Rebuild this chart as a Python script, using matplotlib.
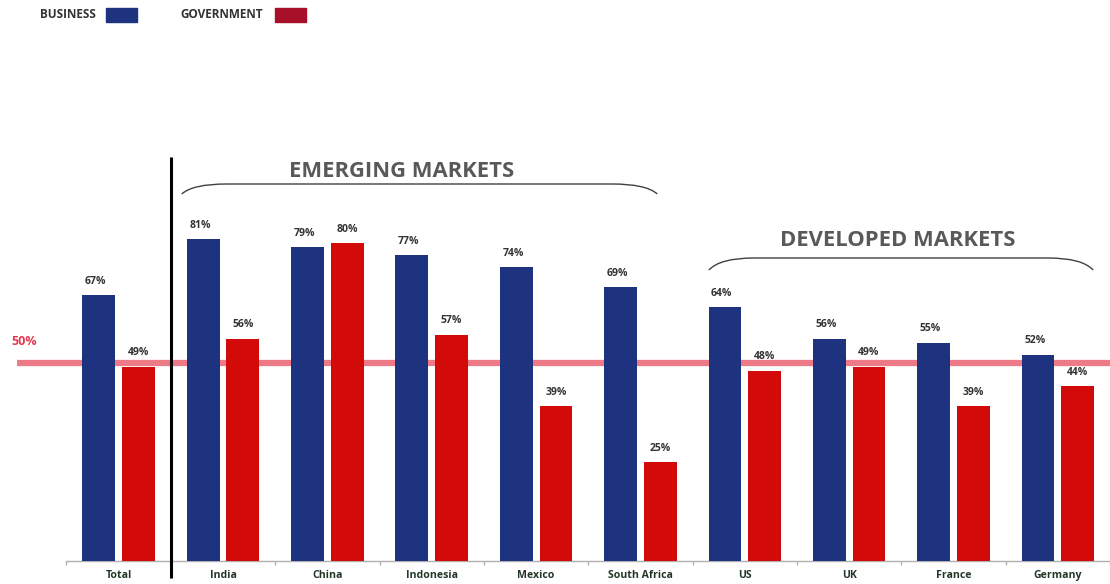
import matplotlib
matplotlib.use("Agg")
import matplotlib.pyplot as plt
from matplotlib.path import Path
from matplotlib.patches import PathPatch, Rectangle
import numpy as np

plt.rcParams['font.family'] = ['Open Sans', 'DejaVu Sans']

categories = ["Total", "India", "China", "Indonesia", "Mexico", "South Africa",
              "US", "UK", "France", "Germany"]
business = [67, 81, 79, 77, 74, 69, 64, 56, 55, 52]
government = [49, 56, 80, 57, 39, 25, 48, 49, 39, 44]
threshold = 50

BLUE = "#1D3380"
RED = "#D20A0A"
LEGEND_RED = "#A8102A"
PINK = "#EC6C7A"
TEXT = "#333333"
CAT_TEXT = "#223626"
HEAD = "#595959"

W, H = 1110, 584
fig = plt.figure(figsize=(W / 100, H / 100), dpi=100)
ax = fig.add_axes([0, 0, 1, 1])

# pixel scale: one category = 105.1 px, one percent = 3.976 px
px_x = 105.1
px_y = 3.976
x0_px = 119.5          # centre of first category
base_px = 561.4        # baseline (0 %)
ax.set_xlim(-x0_px / px_x, (W - x0_px) / px_x)
ax.set_ylim(-(H - base_px) / px_y, base_px / px_y)

x = np.arange(len(categories))
bw = 0.314
off = 0.19

ax.bar(x - off, business, width=bw, color=BLUE, zorder=3)
ax.bar(x + off, government, width=bw, color=RED, zorder=3)

# threshold line
ax.plot([(17 - x0_px) / px_x, 9.6], [threshold, threshold], color=PINK,
        lw=4.5, alpha=0.9, zorder=2, solid_capstyle='butt')
ax.text((12 - x0_px) / px_x, threshold + 5.2, f"{threshold}%", color="#E23A52",
        fontsize=9, fontweight='bold', ha='left', va='center')

# value labels
for xi, b, g in zip(x, business, government):
    ax.annotate(f"{b}%", (xi - off - 0.03, b), xytext=(0, 10), textcoords='offset points',
                ha='center', va='center', fontsize=7.5, fontweight='bold', color=TEXT, zorder=5)
    ax.annotate(f"{g}%", (xi + off, g), xytext=(0, 10), textcoords='offset points',
                ha='center', va='center', fontsize=7.5, fontweight='bold', color=TEXT, zorder=5)

# category labels
for xi, c in zip(x, categories):
    ax.text(xi, -3.65, c, ha='center', va='center', fontsize=7.6,
            fontweight='bold', color=CAT_TEXT)

# axis line and boundary ticks
for s in ['top', 'right', 'left']:
    ax.spines[s].set_visible(False)
ax.spines['bottom'].set_position(('data', 0))
ax.spines['bottom'].set_bounds(-0.5, 9.6)
ax.spines['bottom'].set_color("#B0B0B0")
ax.spines['bottom'].set_linewidth(1.0)
ax.set_xticks(np.arange(-0.5, 10, 1))
ax.set_xticklabels([])
ax.tick_params(axis='x', direction='out', length=3, color="#B0B0B0", width=1)
ax.set_yticks([])

# divider between total and countries
ax.plot([0.5, 0.5], [(base_px - 157) / px_y, (base_px - 578) / px_y],
        color="black", lw=2.2, zorder=6, solid_capstyle='butt')


def bracket(x_left_px, x_right_px, y_top_px, y_end_px):
    xl = (x_left_px - x0_px) / px_x
    xr = (x_right_px - x0_px) / px_x
    yt = (base_px - y_top_px) / px_y
    ye = (base_px - y_end_px) / px_y
    r = 45 / px_x
    verts = [(xl, ye), (xl + r * 0.25, yt), (xl + r, yt), (xr - r, yt), (xr - r * 0.25, yt), (xr, ye)]
    codes = [Path.MOVETO, Path.CURVE3, Path.CURVE3, Path.LINETO, Path.CURVE3, Path.CURVE3]
    ax.add_patch(PathPatch(Path(verts, codes), fill=False, color="#404040", lw=1.0, zorder=4))


bracket(183, 662, 184, 194)
bracket(714, 1101, 258, 270)

ax.text((405 - x0_px) / px_x, (base_px - 171) / px_y, "EMERGING MARKETS",
        ha='center', va='center', fontsize=15.8, fontweight='bold', color=HEAD)
ax.text((904 - x0_px) / px_x, (base_px - 241) / px_y, "DEVELOPED MARKETS",
        ha='center', va='center', fontsize=15.8, fontweight='bold', color=HEAD)

# legend
fig.text(40 / W, 1 - 15 / H, "BUSINESS", fontsize=8.5, fontweight='bold',
         color=TEXT, ha='left', va='center')
fig.patches.append(Rectangle((106 / W, 1 - 22 / H), 31 / W, 14 / H,
                             transform=fig.transFigure, color=BLUE))
fig.text(180 / W, 1 - 15 / H, "GOVERNMENT", fontsize=8.5, fontweight='bold',
         color=TEXT, ha='left', va='center')
fig.patches.append(Rectangle((275 / W, 1 - 22 / H), 31 / W, 14 / H,
                             transform=fig.transFigure, color=LEGEND_RED))

fig.savefig("out.png", dpi=100, facecolor="white")
